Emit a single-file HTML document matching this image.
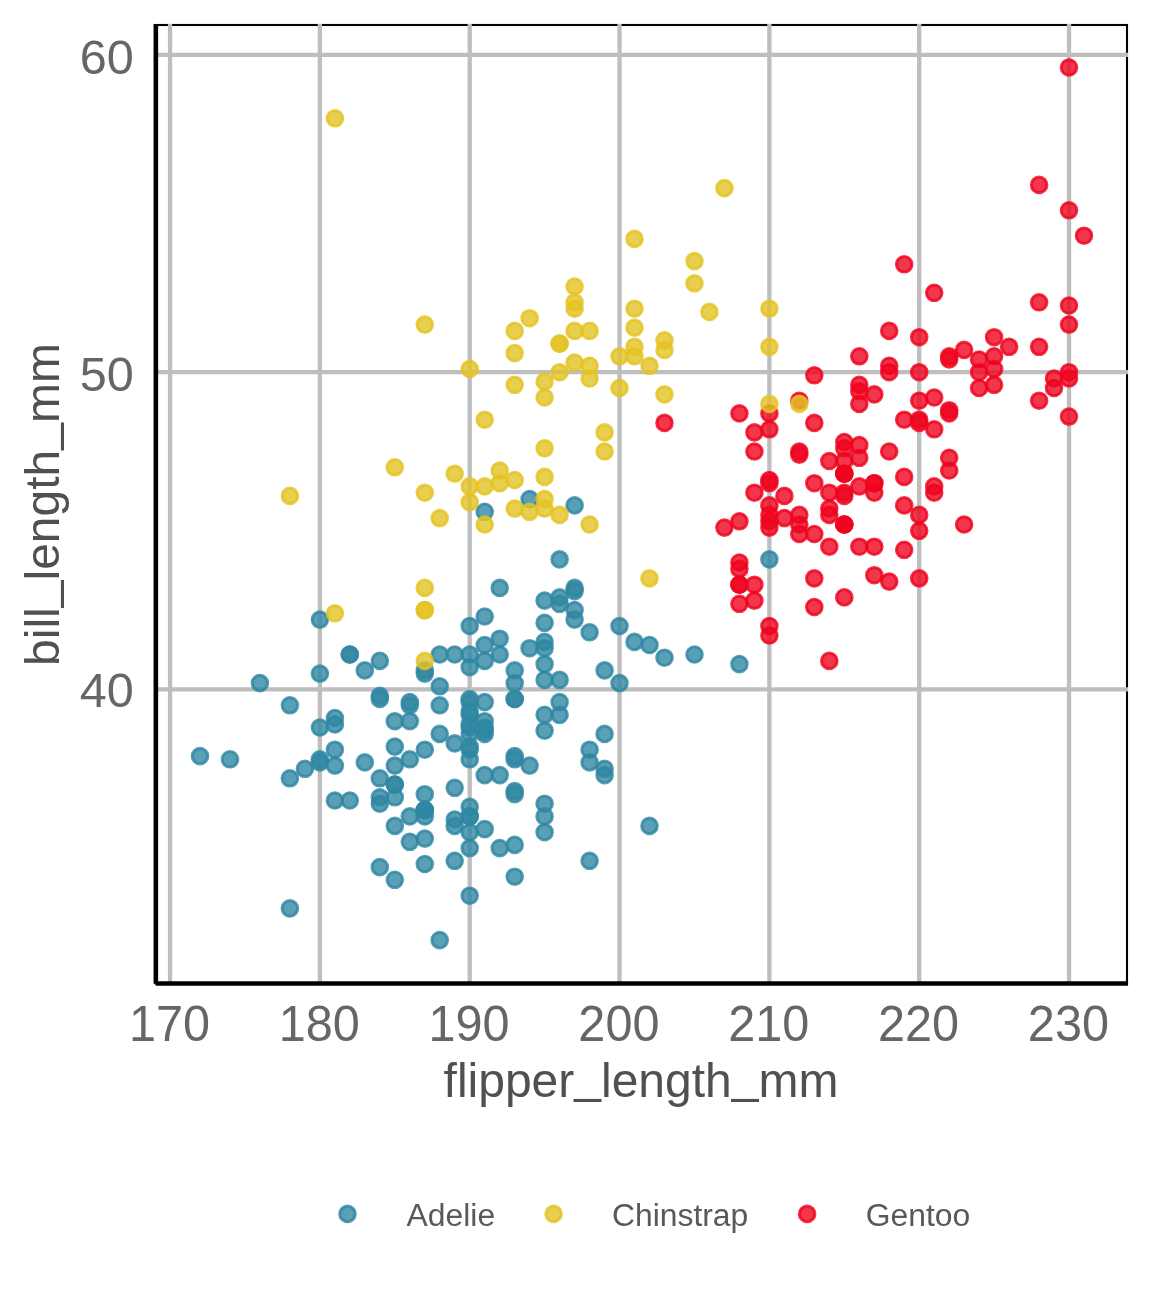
<!DOCTYPE html>
<html lang="en">
<head>
<meta charset="utf-8">
<title>Penguins: bill length vs flipper length</title>
<style>
html,body{margin:0;padding:0;background:#fff;}
body{width:1152px;height:1296px;overflow:hidden;}
svg{display:block;}
text{font-family:"Liberation Sans",Arial,Helvetica,sans-serif;}
.tick text{font-size:48.6px;fill:#666666;}
.title{font-size:48px;fill:#505050;}
.leg text{font-size:31.85px;fill:#595959;}
.grid line{stroke:#bebebe;stroke-width:4.3;}
.f{fill-opacity:0.8;stroke:none;}
.s{fill:none;stroke-opacity:0.8;stroke-width:3.0;}
#pa .f{fill:#2F87A3;} #pa .s{stroke:#2F87A3;}
#pc .f{fill:#E3C323;} #pc .s{stroke:#E3C323;}
#pg .f{fill:#EF041E;} #pg .s{stroke:#EF041E;}
</style>
</head>
<body>
<svg width="1152" height="1296" viewBox="0 0 1152 1296">
<rect x="0" y="0" width="1152" height="1296" fill="#ffffff"/>
<rect x="155.7" y="25.0" width="971.3" height="958.5" fill="#ffffff" stroke="#000000" stroke-width="2.1"/>
<defs>
<g id="pa"><circle class="f" r="8.0"/><circle class="s" r="7.8"/></g>
<g id="pc"><circle class="f" r="8.0"/><circle class="s" r="7.8"/></g>
<g id="pg"><circle class="f" r="8.0"/><circle class="s" r="7.8"/></g>
</defs>
<g class="grid">
<line x1="170.05" y1="24.0" x2="170.05" y2="983.5"/>
<line x1="319.88" y1="24.0" x2="319.88" y2="983.5"/>
<line x1="469.71" y1="24.0" x2="469.71" y2="983.5"/>
<line x1="619.54" y1="24.0" x2="619.54" y2="983.5"/>
<line x1="769.37" y1="24.0" x2="769.37" y2="983.5"/>
<line x1="919.20" y1="24.0" x2="919.20" y2="983.5"/>
<line x1="1069.03" y1="24.0" x2="1069.03" y2="983.5"/>
<line x1="155.7" y1="689.45" x2="1128.0" y2="689.45"/>
<line x1="155.7" y1="372.15" x2="1128.0" y2="372.15"/>
<line x1="155.7" y1="54.85" x2="1128.0" y2="54.85"/>
</g>
<g class="points">
<use href="#pa" x="200.0" y="756.1"/>
<use href="#pa" x="230.0" y="759.3"/>
<use href="#pa" x="259.9" y="683.1"/>
<use href="#pa" x="289.9" y="705.3"/>
<use href="#pa" x="289.9" y="778.3"/>
<use href="#pa" x="289.9" y="908.4"/>
<use href="#pa" x="304.9" y="768.8"/>
<use href="#pa" x="319.9" y="619.6"/>
<use href="#pa" x="319.9" y="673.6"/>
<use href="#pa" x="319.9" y="727.5"/>
<use href="#pa" x="319.9" y="759.3"/>
<use href="#pa" x="319.9" y="762.4"/>
<use href="#pa" x="334.9" y="718.0"/>
<use href="#pa" x="334.9" y="724.4"/>
<use href="#pa" x="334.9" y="749.7"/>
<use href="#pa" x="334.9" y="765.6"/>
<use href="#pa" x="334.9" y="800.5"/>
<use href="#pa" x="349.8" y="654.5"/>
<use href="#pa" x="349.8" y="654.5"/>
<use href="#pa" x="349.8" y="800.5"/>
<use href="#pa" x="364.8" y="670.4"/>
<use href="#pa" x="364.8" y="762.4"/>
<use href="#pa" x="379.8" y="660.9"/>
<use href="#pa" x="379.8" y="695.8"/>
<use href="#pa" x="379.8" y="699.0"/>
<use href="#pa" x="379.8" y="778.3"/>
<use href="#pa" x="379.8" y="797.3"/>
<use href="#pa" x="379.8" y="803.7"/>
<use href="#pa" x="379.8" y="867.1"/>
<use href="#pa" x="394.8" y="721.2"/>
<use href="#pa" x="394.8" y="746.6"/>
<use href="#pa" x="394.8" y="765.6"/>
<use href="#pa" x="394.8" y="784.6"/>
<use href="#pa" x="394.8" y="784.6"/>
<use href="#pa" x="394.8" y="797.3"/>
<use href="#pa" x="394.8" y="825.9"/>
<use href="#pa" x="394.8" y="879.8"/>
<use href="#pa" x="409.8" y="702.1"/>
<use href="#pa" x="409.8" y="705.3"/>
<use href="#pa" x="409.8" y="721.2"/>
<use href="#pa" x="409.8" y="759.3"/>
<use href="#pa" x="409.8" y="816.4"/>
<use href="#pa" x="409.8" y="841.8"/>
<use href="#pa" x="424.8" y="670.4"/>
<use href="#pa" x="424.8" y="673.6"/>
<use href="#pa" x="424.8" y="749.7"/>
<use href="#pa" x="424.8" y="794.2"/>
<use href="#pa" x="424.8" y="810.0"/>
<use href="#pa" x="424.8" y="810.0"/>
<use href="#pa" x="424.8" y="810.0"/>
<use href="#pa" x="424.8" y="816.4"/>
<use href="#pa" x="424.8" y="838.6"/>
<use href="#pa" x="424.8" y="864.0"/>
<use href="#pa" x="439.7" y="654.5"/>
<use href="#pa" x="439.7" y="686.3"/>
<use href="#pa" x="439.7" y="705.3"/>
<use href="#pa" x="439.7" y="733.9"/>
<use href="#pa" x="439.7" y="940.1"/>
<use href="#pa" x="454.7" y="654.5"/>
<use href="#pa" x="454.7" y="743.4"/>
<use href="#pa" x="454.7" y="787.8"/>
<use href="#pa" x="454.7" y="819.5"/>
<use href="#pa" x="454.7" y="825.9"/>
<use href="#pa" x="454.7" y="860.8"/>
<use href="#pa" x="469.7" y="626.0"/>
<use href="#pa" x="469.7" y="654.5"/>
<use href="#pa" x="469.7" y="667.2"/>
<use href="#pa" x="469.7" y="699.0"/>
<use href="#pa" x="469.7" y="702.1"/>
<use href="#pa" x="469.7" y="711.7"/>
<use href="#pa" x="469.7" y="714.8"/>
<use href="#pa" x="469.7" y="724.4"/>
<use href="#pa" x="469.7" y="727.5"/>
<use href="#pa" x="469.7" y="733.9"/>
<use href="#pa" x="469.7" y="746.6"/>
<use href="#pa" x="469.7" y="749.7"/>
<use href="#pa" x="469.7" y="759.3"/>
<use href="#pa" x="469.7" y="806.9"/>
<use href="#pa" x="469.7" y="816.4"/>
<use href="#pa" x="469.7" y="816.4"/>
<use href="#pa" x="469.7" y="832.2"/>
<use href="#pa" x="469.7" y="848.1"/>
<use href="#pa" x="469.7" y="895.7"/>
<use href="#pa" x="484.7" y="511.8"/>
<use href="#pa" x="484.7" y="616.5"/>
<use href="#pa" x="484.7" y="645.0"/>
<use href="#pa" x="484.7" y="660.9"/>
<use href="#pa" x="484.7" y="702.1"/>
<use href="#pa" x="484.7" y="721.2"/>
<use href="#pa" x="484.7" y="727.5"/>
<use href="#pa" x="484.7" y="730.7"/>
<use href="#pa" x="484.7" y="733.9"/>
<use href="#pa" x="484.7" y="775.1"/>
<use href="#pa" x="484.7" y="829.1"/>
<use href="#pa" x="499.7" y="587.9"/>
<use href="#pa" x="499.7" y="638.7"/>
<use href="#pa" x="499.7" y="654.5"/>
<use href="#pa" x="499.7" y="775.1"/>
<use href="#pa" x="499.7" y="848.1"/>
<use href="#pa" x="514.7" y="670.4"/>
<use href="#pa" x="514.7" y="683.1"/>
<use href="#pa" x="514.7" y="699.0"/>
<use href="#pa" x="514.7" y="699.0"/>
<use href="#pa" x="514.7" y="756.1"/>
<use href="#pa" x="514.7" y="759.3"/>
<use href="#pa" x="514.7" y="791.0"/>
<use href="#pa" x="514.7" y="794.2"/>
<use href="#pa" x="514.7" y="844.9"/>
<use href="#pa" x="514.7" y="876.7"/>
<use href="#pa" x="529.6" y="499.1"/>
<use href="#pa" x="529.6" y="648.2"/>
<use href="#pa" x="529.6" y="765.6"/>
<use href="#pa" x="544.6" y="600.6"/>
<use href="#pa" x="544.6" y="622.8"/>
<use href="#pa" x="544.6" y="641.9"/>
<use href="#pa" x="544.6" y="648.2"/>
<use href="#pa" x="544.6" y="664.1"/>
<use href="#pa" x="544.6" y="679.9"/>
<use href="#pa" x="544.6" y="714.8"/>
<use href="#pa" x="544.6" y="730.7"/>
<use href="#pa" x="544.6" y="803.7"/>
<use href="#pa" x="544.6" y="816.4"/>
<use href="#pa" x="544.6" y="832.2"/>
<use href="#pa" x="559.6" y="559.4"/>
<use href="#pa" x="559.6" y="597.4"/>
<use href="#pa" x="559.6" y="603.8"/>
<use href="#pa" x="559.6" y="679.9"/>
<use href="#pa" x="559.6" y="702.1"/>
<use href="#pa" x="559.6" y="714.8"/>
<use href="#pa" x="574.6" y="505.4"/>
<use href="#pa" x="574.6" y="587.9"/>
<use href="#pa" x="574.6" y="591.1"/>
<use href="#pa" x="574.6" y="610.1"/>
<use href="#pa" x="574.6" y="619.6"/>
<use href="#pa" x="589.6" y="632.3"/>
<use href="#pa" x="589.6" y="749.7"/>
<use href="#pa" x="589.6" y="762.4"/>
<use href="#pa" x="589.6" y="860.8"/>
<use href="#pa" x="604.6" y="670.4"/>
<use href="#pa" x="604.6" y="733.9"/>
<use href="#pa" x="604.6" y="768.8"/>
<use href="#pa" x="604.6" y="775.1"/>
<use href="#pa" x="619.5" y="626.0"/>
<use href="#pa" x="619.5" y="683.1"/>
<use href="#pa" x="634.5" y="641.9"/>
<use href="#pa" x="649.5" y="645.0"/>
<use href="#pa" x="649.5" y="825.9"/>
<use href="#pa" x="664.5" y="657.7"/>
<use href="#pa" x="694.5" y="654.5"/>
<use href="#pa" x="739.4" y="664.1"/>
<use href="#pa" x="769.4" y="559.4"/>
<use href="#pg" x="664.5" y="422.9"/>
<use href="#pg" x="724.4" y="527.6"/>
<use href="#pg" x="739.4" y="413.4"/>
<use href="#pg" x="739.4" y="521.3"/>
<use href="#pg" x="739.4" y="562.5"/>
<use href="#pg" x="739.4" y="568.9"/>
<use href="#pg" x="739.4" y="584.7"/>
<use href="#pg" x="739.4" y="584.7"/>
<use href="#pg" x="739.4" y="603.8"/>
<use href="#pg" x="754.4" y="432.4"/>
<use href="#pg" x="754.4" y="451.5"/>
<use href="#pg" x="754.4" y="492.7"/>
<use href="#pg" x="754.4" y="584.7"/>
<use href="#pg" x="754.4" y="600.6"/>
<use href="#pg" x="769.4" y="413.4"/>
<use href="#pg" x="769.4" y="429.3"/>
<use href="#pg" x="769.4" y="480.0"/>
<use href="#pg" x="769.4" y="483.2"/>
<use href="#pg" x="769.4" y="505.4"/>
<use href="#pg" x="769.4" y="514.9"/>
<use href="#pg" x="769.4" y="521.3"/>
<use href="#pg" x="769.4" y="527.6"/>
<use href="#pg" x="769.4" y="626.0"/>
<use href="#pg" x="769.4" y="635.5"/>
<use href="#pg" x="784.4" y="495.9"/>
<use href="#pg" x="784.4" y="518.1"/>
<use href="#pg" x="799.3" y="400.7"/>
<use href="#pg" x="799.3" y="451.5"/>
<use href="#pg" x="799.3" y="454.6"/>
<use href="#pg" x="799.3" y="514.9"/>
<use href="#pg" x="799.3" y="524.5"/>
<use href="#pg" x="799.3" y="534.0"/>
<use href="#pg" x="814.3" y="375.3"/>
<use href="#pg" x="814.3" y="422.9"/>
<use href="#pg" x="814.3" y="483.2"/>
<use href="#pg" x="814.3" y="534.0"/>
<use href="#pg" x="814.3" y="578.4"/>
<use href="#pg" x="814.3" y="607.0"/>
<use href="#pg" x="829.3" y="461.0"/>
<use href="#pg" x="829.3" y="492.7"/>
<use href="#pg" x="829.3" y="508.6"/>
<use href="#pg" x="829.3" y="514.9"/>
<use href="#pg" x="829.3" y="546.7"/>
<use href="#pg" x="829.3" y="660.9"/>
<use href="#pg" x="844.3" y="442.0"/>
<use href="#pg" x="844.3" y="448.3"/>
<use href="#pg" x="844.3" y="461.0"/>
<use href="#pg" x="844.3" y="473.7"/>
<use href="#pg" x="844.3" y="473.7"/>
<use href="#pg" x="844.3" y="473.7"/>
<use href="#pg" x="844.3" y="492.7"/>
<use href="#pg" x="844.3" y="495.9"/>
<use href="#pg" x="844.3" y="524.5"/>
<use href="#pg" x="844.3" y="524.5"/>
<use href="#pg" x="844.3" y="524.5"/>
<use href="#pg" x="844.3" y="597.4"/>
<use href="#pg" x="859.3" y="356.3"/>
<use href="#pg" x="859.3" y="384.8"/>
<use href="#pg" x="859.3" y="391.2"/>
<use href="#pg" x="859.3" y="403.9"/>
<use href="#pg" x="859.3" y="445.1"/>
<use href="#pg" x="859.3" y="457.8"/>
<use href="#pg" x="859.3" y="486.4"/>
<use href="#pg" x="859.3" y="546.7"/>
<use href="#pg" x="874.3" y="394.4"/>
<use href="#pg" x="874.3" y="483.2"/>
<use href="#pg" x="874.3" y="483.2"/>
<use href="#pg" x="874.3" y="492.7"/>
<use href="#pg" x="874.3" y="546.7"/>
<use href="#pg" x="874.3" y="575.2"/>
<use href="#pg" x="889.2" y="330.9"/>
<use href="#pg" x="889.2" y="365.8"/>
<use href="#pg" x="889.2" y="372.2"/>
<use href="#pg" x="889.2" y="451.5"/>
<use href="#pg" x="889.2" y="581.6"/>
<use href="#pg" x="904.2" y="264.3"/>
<use href="#pg" x="904.2" y="419.7"/>
<use href="#pg" x="904.2" y="476.9"/>
<use href="#pg" x="904.2" y="505.4"/>
<use href="#pg" x="904.2" y="549.8"/>
<use href="#pg" x="919.2" y="337.2"/>
<use href="#pg" x="919.2" y="372.2"/>
<use href="#pg" x="919.2" y="400.7"/>
<use href="#pg" x="919.2" y="419.7"/>
<use href="#pg" x="919.2" y="422.9"/>
<use href="#pg" x="919.2" y="514.9"/>
<use href="#pg" x="919.2" y="530.8"/>
<use href="#pg" x="919.2" y="578.4"/>
<use href="#pg" x="934.2" y="292.8"/>
<use href="#pg" x="934.2" y="397.5"/>
<use href="#pg" x="934.2" y="429.3"/>
<use href="#pg" x="934.2" y="486.4"/>
<use href="#pg" x="934.2" y="492.7"/>
<use href="#pg" x="949.2" y="356.3"/>
<use href="#pg" x="949.2" y="359.5"/>
<use href="#pg" x="949.2" y="410.2"/>
<use href="#pg" x="949.2" y="413.4"/>
<use href="#pg" x="949.2" y="457.8"/>
<use href="#pg" x="949.2" y="470.5"/>
<use href="#pg" x="964.1" y="349.9"/>
<use href="#pg" x="964.1" y="524.5"/>
<use href="#pg" x="979.1" y="359.5"/>
<use href="#pg" x="979.1" y="372.2"/>
<use href="#pg" x="979.1" y="388.0"/>
<use href="#pg" x="994.1" y="337.2"/>
<use href="#pg" x="994.1" y="356.3"/>
<use href="#pg" x="994.1" y="369.0"/>
<use href="#pg" x="994.1" y="384.8"/>
<use href="#pg" x="1009.1" y="346.8"/>
<use href="#pg" x="1039.1" y="184.9"/>
<use href="#pg" x="1039.1" y="302.3"/>
<use href="#pg" x="1039.1" y="346.8"/>
<use href="#pg" x="1039.1" y="400.7"/>
<use href="#pg" x="1054.0" y="378.5"/>
<use href="#pg" x="1054.0" y="388.0"/>
<use href="#pg" x="1069.0" y="67.5"/>
<use href="#pg" x="1069.0" y="210.3"/>
<use href="#pg" x="1069.0" y="305.5"/>
<use href="#pg" x="1069.0" y="324.6"/>
<use href="#pg" x="1069.0" y="372.2"/>
<use href="#pg" x="1069.0" y="378.5"/>
<use href="#pg" x="1069.0" y="416.6"/>
<use href="#pg" x="1084.0" y="235.7"/>
<use href="#pc" x="289.9" y="495.9"/>
<use href="#pc" x="334.9" y="118.3"/>
<use href="#pc" x="334.9" y="613.3"/>
<use href="#pc" x="394.8" y="467.3"/>
<use href="#pc" x="424.8" y="324.6"/>
<use href="#pc" x="424.8" y="492.7"/>
<use href="#pc" x="424.8" y="587.9"/>
<use href="#pc" x="424.8" y="610.1"/>
<use href="#pc" x="424.8" y="610.1"/>
<use href="#pc" x="424.8" y="660.9"/>
<use href="#pc" x="439.7" y="518.1"/>
<use href="#pc" x="454.7" y="473.7"/>
<use href="#pc" x="469.7" y="369.0"/>
<use href="#pc" x="469.7" y="486.4"/>
<use href="#pc" x="469.7" y="502.2"/>
<use href="#pc" x="484.7" y="419.7"/>
<use href="#pc" x="484.7" y="486.4"/>
<use href="#pc" x="484.7" y="524.5"/>
<use href="#pc" x="499.7" y="470.5"/>
<use href="#pc" x="499.7" y="483.2"/>
<use href="#pc" x="514.7" y="330.9"/>
<use href="#pc" x="514.7" y="353.1"/>
<use href="#pc" x="514.7" y="384.8"/>
<use href="#pc" x="514.7" y="480.0"/>
<use href="#pc" x="514.7" y="508.6"/>
<use href="#pc" x="529.6" y="318.2"/>
<use href="#pc" x="529.6" y="511.8"/>
<use href="#pc" x="544.6" y="381.7"/>
<use href="#pc" x="544.6" y="397.5"/>
<use href="#pc" x="544.6" y="448.3"/>
<use href="#pc" x="544.6" y="476.9"/>
<use href="#pc" x="544.6" y="499.1"/>
<use href="#pc" x="544.6" y="508.6"/>
<use href="#pc" x="559.6" y="343.6"/>
<use href="#pc" x="559.6" y="343.6"/>
<use href="#pc" x="559.6" y="372.2"/>
<use href="#pc" x="559.6" y="514.9"/>
<use href="#pc" x="574.6" y="286.5"/>
<use href="#pc" x="574.6" y="302.3"/>
<use href="#pc" x="574.6" y="308.7"/>
<use href="#pc" x="574.6" y="330.9"/>
<use href="#pc" x="574.6" y="362.6"/>
<use href="#pc" x="589.6" y="330.9"/>
<use href="#pc" x="589.6" y="365.8"/>
<use href="#pc" x="589.6" y="378.5"/>
<use href="#pc" x="589.6" y="524.5"/>
<use href="#pc" x="604.6" y="432.4"/>
<use href="#pc" x="604.6" y="451.5"/>
<use href="#pc" x="619.5" y="356.3"/>
<use href="#pc" x="619.5" y="388.0"/>
<use href="#pc" x="634.5" y="238.9"/>
<use href="#pc" x="634.5" y="308.7"/>
<use href="#pc" x="634.5" y="327.7"/>
<use href="#pc" x="634.5" y="346.8"/>
<use href="#pc" x="634.5" y="356.3"/>
<use href="#pc" x="649.5" y="365.8"/>
<use href="#pc" x="649.5" y="578.4"/>
<use href="#pc" x="664.5" y="340.4"/>
<use href="#pc" x="664.5" y="349.9"/>
<use href="#pc" x="664.5" y="394.4"/>
<use href="#pc" x="694.5" y="261.1"/>
<use href="#pc" x="694.5" y="283.3"/>
<use href="#pc" x="709.4" y="311.9"/>
<use href="#pc" x="724.4" y="188.1"/>
<use href="#pc" x="769.4" y="308.7"/>
<use href="#pc" x="769.4" y="346.8"/>
<use href="#pc" x="769.4" y="403.9"/>
<use href="#pc" x="799.3" y="403.9"/>
</g>
<line x1="155.85" y1="23.95" x2="155.85" y2="983.8" stroke="#000" stroke-width="4.6"/>
<line x1="155.80" y1="983.5" x2="1128.05" y2="983.5" stroke="#000" stroke-width="4.6"/>
<g class="tick">
<text transform="translate(169.5,1040.6) scale(1,1.02)" text-anchor="middle">170</text>
<text transform="translate(319.3,1040.6) scale(1,1.02)" text-anchor="middle">180</text>
<text transform="translate(469.1,1040.6) scale(1,1.02)" text-anchor="middle">190</text>
<text transform="translate(618.9,1040.6) scale(1,1.02)" text-anchor="middle">200</text>
<text transform="translate(768.8,1040.6) scale(1,1.02)" text-anchor="middle">210</text>
<text transform="translate(918.6,1040.6) scale(1,1.02)" text-anchor="middle">220</text>
<text transform="translate(1068.4,1040.6) scale(1,1.02)" text-anchor="middle">230</text>
<text transform="translate(133.9,707.0) scale(1,1.006)" text-anchor="end">40</text>
<text transform="translate(133.9,391.0) scale(1,1.006)" text-anchor="end">50</text>
<text transform="translate(133.9,74.3) scale(1,1.006)" text-anchor="end">60</text>
</g>
<text class="title" x="641" y="1097" text-anchor="middle">flipper<tspan dy="-4.6">_</tspan><tspan dy="4.6">length</tspan><tspan dy="-4.6">_</tspan><tspan dy="4.6">mm</tspan></text>
<text class="title" transform="translate(58.6,504.5) rotate(-90)" text-anchor="middle">bill<tspan dy="-4.6">_</tspan><tspan dy="4.6">length</tspan><tspan dy="-4.6">_</tspan><tspan dy="4.6">mm</tspan></text>
<g class="leg">
<use href="#pa" x="347.5" y="1213.9"/>
<text x="406.6" y="1225.6">Adelie</text>
<use href="#pc" x="553.6" y="1213.9"/>
<text x="612.0" y="1225.6">Chinstrap</text>
<use href="#pg" x="807.1" y="1213.9"/>
<text x="865.8" y="1225.6">Gentoo</text>
</g>
</svg>
</body>
</html>
